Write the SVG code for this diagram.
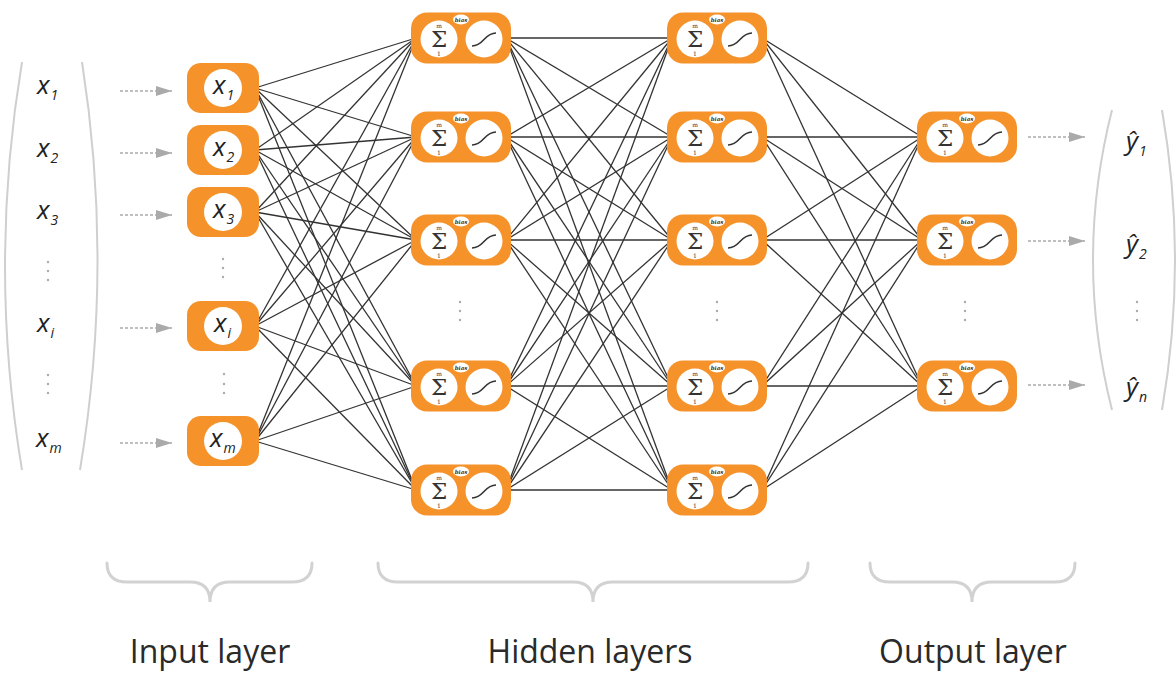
<svg xmlns="http://www.w3.org/2000/svg" xmlns:xlink="http://www.w3.org/1999/xlink" width="1176" height="673" viewBox="0 0 1176 673">
<style>
.box{fill:#F5922A}
.wc{fill:#ffffff}
.lbl{font-family:"Open Sans","Noto Sans",sans-serif;font-style:italic;fill:#222;font-size:26px}
.sub{font-size:14px}
.dots{fill:#aaa}
.conn line{stroke:#333;stroke-width:1.3}
.paren{fill:none;stroke:#cfcfcf;stroke-width:2}
.brace{fill:none;stroke:#d2d2d2;stroke-width:3;stroke-linecap:round}
.ttl{font-family:"Open Sans","Noto Sans",sans-serif;font-size:32px;fill:#2a2a2a;text-anchor:middle}
.arr{stroke:#aaa;stroke-width:1.6;stroke-dasharray:3 2;fill:none}
.sig{font-family:"DejaVu Serif",serif;fill:#333;text-anchor:middle}
.curve{fill:none;stroke:#333;stroke-width:1.6}
</style>
<defs>
<marker id="ah" markerUnits="userSpaceOnUse" markerWidth="18" markerHeight="12" refX="16" refY="5" orient="auto">
<path d="M0,0 L16,5 L0,10 Z" fill="#aaa"/>
</marker>
<g id="neuron">
<rect class="box" x="-50" y="-25.5" width="100" height="51" rx="16"/>
<circle class="wc" cx="-22" cy="1" r="18.5"/>
<circle class="wc" cx="23" cy="1" r="18.5"/>
<ellipse class="wc" cx="0" cy="-18.5" rx="8" ry="5"/>
<text class="sig" x="0" y="-16.5" font-size="5.5" font-style="italic" font-weight="bold" fill="#223">bias</text>
<text class="sig" x="-22" y="9" font-size="23">Σ</text>
<text class="sig" x="-22" y="-10" font-size="6">m</text>
<text class="sig" x="-22" y="18" font-size="6">1</text>
<path class="curve" d="M11,8 Q17,8 23,1.5 T35,-5"/>
</g>
</defs>

<!-- left vector -->
<g id="input-vector">
<path class="paren" d="M22,62 Q-12,266 22,470"/>
<path class="paren" d="M82,62 Q114,266 80,470"/>
<text class="lbl" x="37" y="94">x<tspan class="sub" dx="1" dy="6">1</tspan></text>
<text class="lbl" x="37" y="157">x<tspan class="sub" dx="1" dy="6">2</tspan></text>
<text class="lbl" x="37" y="219">x<tspan class="sub" dx="1" dy="6">3</tspan></text>
<text class="lbl" x="37" y="332">x<tspan class="sub" dx="1" dy="6">i</tspan></text>
<text class="lbl" x="36" y="447">x<tspan class="sub" dx="1" dy="6">m</tspan></text>
<circle class="dots" cx="48" cy="262" r="1.2"/><circle class="dots" cx="48" cy="271" r="1.2"/><circle class="dots" cx="48" cy="280" r="1.2"/>
<circle class="dots" cx="48" cy="375" r="1.2"/><circle class="dots" cx="48" cy="384" r="1.2"/><circle class="dots" cx="48" cy="393" r="1.2"/>
</g>

<!-- input arrows -->
<g id="input-arrows">
<line class="arr" x1="120" y1="91" x2="172" y2="91" marker-end="url(#ah)"/>
<line class="arr" x1="120" y1="153" x2="172" y2="153" marker-end="url(#ah)"/>
<line class="arr" x1="120" y1="215" x2="172" y2="215" marker-end="url(#ah)"/>
<line class="arr" x1="120" y1="328" x2="172" y2="328" marker-end="url(#ah)"/>
<line class="arr" x1="120" y1="443" x2="172" y2="443" marker-end="url(#ah)"/>
</g>

<!-- connectors -->
<g id="connectors" class="conn">
<!-- input -> hidden1 -->
<line x1="255" y1="88" x2="416" y2="38"/><line x1="255" y1="88" x2="416" y2="137"/><line x1="255" y1="88" x2="416" y2="240"/><line x1="255" y1="88" x2="416" y2="386"/><line x1="255" y1="88" x2="416" y2="490"/>
<line x1="255" y1="150" x2="416" y2="38"/><line x1="255" y1="150" x2="416" y2="137"/><line x1="255" y1="150" x2="416" y2="240"/><line x1="255" y1="150" x2="416" y2="386"/><line x1="255" y1="150" x2="416" y2="490"/>
<line x1="255" y1="212" x2="416" y2="38"/><line x1="255" y1="212" x2="416" y2="137"/><line x1="255" y1="212" x2="416" y2="240"/><line x1="255" y1="212" x2="416" y2="386"/><line x1="255" y1="212" x2="416" y2="490"/>
<line x1="255" y1="326" x2="416" y2="38"/><line x1="255" y1="326" x2="416" y2="137"/><line x1="255" y1="326" x2="416" y2="240"/><line x1="255" y1="326" x2="416" y2="386"/><line x1="255" y1="326" x2="416" y2="490"/>
<line x1="255" y1="441" x2="416" y2="38"/><line x1="255" y1="441" x2="416" y2="137"/><line x1="255" y1="441" x2="416" y2="240"/><line x1="255" y1="441" x2="416" y2="386"/><line x1="255" y1="441" x2="416" y2="490"/>
<!-- hidden1 -> hidden2 -->
<line x1="506" y1="38" x2="672" y2="38"/><line x1="506" y1="38" x2="672" y2="137"/><line x1="506" y1="38" x2="672" y2="240"/><line x1="506" y1="38" x2="672" y2="386"/><line x1="506" y1="38" x2="672" y2="490"/>
<line x1="506" y1="137" x2="672" y2="38"/><line x1="506" y1="137" x2="672" y2="137"/><line x1="506" y1="137" x2="672" y2="240"/><line x1="506" y1="137" x2="672" y2="386"/><line x1="506" y1="137" x2="672" y2="490"/>
<line x1="506" y1="240" x2="672" y2="38"/><line x1="506" y1="240" x2="672" y2="137"/><line x1="506" y1="240" x2="672" y2="240"/><line x1="506" y1="240" x2="672" y2="386"/><line x1="506" y1="240" x2="672" y2="490"/>
<line x1="506" y1="386" x2="672" y2="38"/><line x1="506" y1="386" x2="672" y2="137"/><line x1="506" y1="386" x2="672" y2="240"/><line x1="506" y1="386" x2="672" y2="386"/><line x1="506" y1="386" x2="672" y2="490"/>
<line x1="506" y1="490" x2="672" y2="38"/><line x1="506" y1="490" x2="672" y2="137"/><line x1="506" y1="490" x2="672" y2="240"/><line x1="506" y1="490" x2="672" y2="386"/><line x1="506" y1="490" x2="672" y2="490"/>
<!-- hidden2 -> output -->
<line x1="762" y1="38" x2="922" y2="137"/><line x1="762" y1="38" x2="922" y2="240"/><line x1="762" y1="38" x2="922" y2="386"/>
<line x1="762" y1="137" x2="922" y2="137"/><line x1="762" y1="137" x2="922" y2="240"/><line x1="762" y1="137" x2="922" y2="386"/>
<line x1="762" y1="240" x2="922" y2="137"/><line x1="762" y1="240" x2="922" y2="240"/><line x1="762" y1="240" x2="922" y2="386"/>
<line x1="762" y1="386" x2="922" y2="137"/><line x1="762" y1="386" x2="922" y2="240"/><line x1="762" y1="386" x2="922" y2="386"/>
<line x1="762" y1="490" x2="922" y2="137"/><line x1="762" y1="490" x2="922" y2="240"/><line x1="762" y1="490" x2="922" y2="386"/>
</g>

<!-- input nodes -->
<g id="in-1"><rect class="box" x="187" y="63" width="72" height="50" rx="14"/><circle class="wc" cx="223" cy="88" r="19"/><text class="lbl" x="213" y="94">x<tspan class="sub" dx="1" dy="6">1</tspan></text></g>
<g id="in-2"><rect class="box" x="187" y="125" width="72" height="50" rx="14"/><circle class="wc" cx="223" cy="150" r="19"/><text class="lbl" x="213" y="156">x<tspan class="sub" dx="1" dy="6">2</tspan></text></g>
<g id="in-3"><rect class="box" x="187" y="187" width="72" height="50" rx="14"/><circle class="wc" cx="223" cy="212" r="19"/><text class="lbl" x="213" y="218">x<tspan class="sub" dx="1" dy="6">3</tspan></text></g>
<g id="in-i"><rect class="box" x="187" y="301" width="72" height="50" rx="14"/><circle class="wc" cx="223" cy="326" r="19"/><text class="lbl" x="214" y="332">x<tspan class="sub" dx="1" dy="6">i</tspan></text></g>
<g id="in-m"><rect class="box" x="187" y="416" width="72" height="50" rx="14"/><circle class="wc" cx="223" cy="441" r="19"/><text class="lbl" x="210" y="447">x<tspan class="sub" dx="1" dy="6">m</tspan></text></g>
<g id="in-dots">
<circle class="dots" cx="223" cy="259" r="1.2"/><circle class="dots" cx="223" cy="268" r="1.2"/><circle class="dots" cx="223" cy="277" r="1.2"/>
<circle class="dots" cx="224" cy="374" r="1.2"/><circle class="dots" cx="224" cy="384" r="1.2"/><circle class="dots" cx="224" cy="393" r="1.2"/>
</g>

<!-- hidden layer 1 -->
<g id="h1-1"><use xlink:href="#neuron" href="#neuron" x="461" y="38"/></g>
<g id="h1-2"><use xlink:href="#neuron" href="#neuron" x="461" y="137"/></g>
<g id="h1-3"><use xlink:href="#neuron" href="#neuron" x="461" y="240"/></g>
<g id="h1-4"><use xlink:href="#neuron" href="#neuron" x="461" y="386"/></g>
<g id="h1-5"><use xlink:href="#neuron" href="#neuron" x="461" y="490"/></g>
<!-- hidden layer 2 -->
<g id="h2-1"><use xlink:href="#neuron" href="#neuron" x="717" y="38"/></g>
<g id="h2-2"><use xlink:href="#neuron" href="#neuron" x="717" y="137"/></g>
<g id="h2-3"><use xlink:href="#neuron" href="#neuron" x="717" y="240"/></g>
<g id="h2-4"><use xlink:href="#neuron" href="#neuron" x="717" y="386"/></g>
<g id="h2-5"><use xlink:href="#neuron" href="#neuron" x="717" y="490"/></g>
<!-- output layer -->
<g id="out-1"><use xlink:href="#neuron" href="#neuron" x="967" y="137"/></g>
<g id="out-2"><use xlink:href="#neuron" href="#neuron" x="967" y="240"/></g>
<g id="out-3"><use xlink:href="#neuron" href="#neuron" x="967" y="386"/></g>
<g id="layer-dots">
<circle class="dots" cx="460" cy="302" r="1.2"/><circle class="dots" cx="460" cy="311" r="1.2"/><circle class="dots" cx="460" cy="320" r="1.2"/>
<circle class="dots" cx="717" cy="302" r="1.2"/><circle class="dots" cx="717" cy="311" r="1.2"/><circle class="dots" cx="717" cy="320" r="1.2"/>
<circle class="dots" cx="965" cy="302" r="1.2"/><circle class="dots" cx="965" cy="311" r="1.2"/><circle class="dots" cx="965" cy="320" r="1.2"/>
</g>

<!-- output arrows -->
<g id="output-arrows">
<line class="arr" x1="1028" y1="137" x2="1085" y2="137" marker-end="url(#ah)"/>
<line class="arr" x1="1028" y1="241" x2="1085" y2="241" marker-end="url(#ah)"/>
<line class="arr" x1="1028" y1="385" x2="1085" y2="385" marker-end="url(#ah)"/>
</g>

<!-- output vector -->
<g id="output-vector">
<path class="paren" d="M1112,110 Q1074,260 1112,410"/>
<path class="paren" d="M1162,110 Q1188,260 1162,410"/>
<text class="lbl" x="1126" y="150">ŷ<tspan class="sub" dx="1" dy="6">1</tspan></text>
<text class="lbl" x="1126" y="253">ŷ<tspan class="sub" dx="1" dy="6">2</tspan></text>
<text class="lbl" x="1126" y="396">ŷ<tspan class="sub" dx="1" dy="6">n</tspan></text>
<circle class="dots" cx="1137" cy="302" r="1.2"/><circle class="dots" cx="1137" cy="311" r="1.2"/><circle class="dots" cx="1137" cy="320" r="1.2"/>
</g>

<!-- braces and titles -->
<g id="input-layer-label">
<path class="brace" d="M107,563 Q107,582 127,582 L190,582 Q210,582 210,602 Q210,582 230,582 L292,582 Q312,582 312,563"/>
<text class="ttl" x="210" y="663">Input layer</text>
</g>
<g id="hidden-layers-label">
<path class="brace" d="M378,563 Q378,582 398,582 L573,582 Q593,582 593,602 Q593,582 613,582 L788,582 Q808,582 808,563"/>
<text class="ttl" x="590" y="663">Hidden layers</text>
</g>
<g id="output-layer-label">
<path class="brace" d="M870,563 Q870,582 890,582 L952,582 Q972,582 972,602 Q972,582 992,582 L1055,582 Q1075,582 1075,563"/>
<text class="ttl" x="973" y="663">Output layer</text>
</g>
</svg>
